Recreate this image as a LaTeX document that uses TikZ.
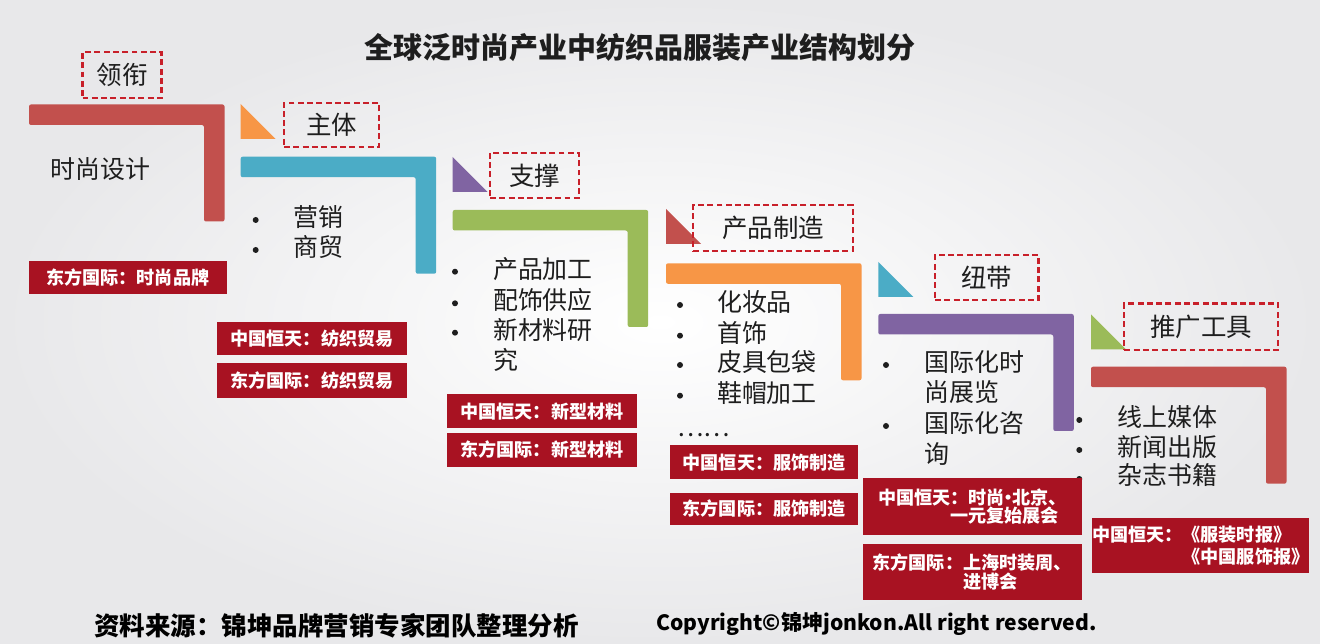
\documentclass[tikz,border=0pt]{standalone}
\usepackage{fontspec}
\setmainfont{Noto Sans CJK SC}
\usetikzlibrary{positioning}
\definecolor{stepred}{RGB}{194,80,77}
\definecolor{stepblue}{RGB}{75,172,198}
\definecolor{stepgreen}{RGB}{155,187,89}
\definecolor{steporange}{RGB}{247,150,70}
\definecolor{steppurple}{RGB}{128,100,162}
\definecolor{firmred}{RGB}{168,18,34}
\definecolor{tagred}{RGB}{200,32,42}
\definecolor{ink}{RGB}{30,30,30}
\definecolor{bggray}{RGB}{232,232,234}
\tikzstyle{tag}=[draw=tagred,line width=1.3pt,dash pattern=on 3.4pt off 1.9pt,inner sep=0pt,text=ink,font=\fontsize{14.5}{17}\selectfont]
\tikzstyle{firm}=[fill=firmred,inner sep=0pt,text=white,align=left,font=\fontsize{10.3}{10.6}\selectfont\bfseries]
\tikzstyle{item}=[anchor=west,inner sep=0pt,text height=.88em,text depth=.12em,text=ink,font=\fontsize{14.2}{17}\selectfont]
\tikzstyle{dot}=[circle,fill=ink,inner sep=0pt,minimum size=0.12cm]
\newcommand{\stepbar}[3]{\fill[#1,rounded corners=0.04cm] (#2,#3) -- ++(195.5,0) -- ++(0,117) -- ++(-20.5,0) -- ++(0,-96.5) -- ++(-175,0) -- cycle;}
\newcommand{\steptri}[3]{\fill[#1] (#2,#3) -- ++(0,35) -- ++(35,0) -- cycle;}

\begin{document}
\begin{tikzpicture}[x=0.02cm,y=-0.02cm,node distance=0.15cm]
    \shade[inner color=white,outer color=bggray] (0,0) rectangle (1320,644);
    \useasboundingbox (0,0) rectangle (1320,644);
    \node[text=ink,font=\fontsize{16.5}{20}\selectfont\bfseries] (title) at (640,48) {全球泛时尚产业中纺织品服装产业结构划分};

    \stepbar{stepred}{29}{104.5}
    \node[tag,minimum width=1.58cm,minimum height=0.92cm] (g1) at (122,75) {领衔};
    \node[item] (i1) at (50,171.7) {时尚设计};
    \node[firm,minimum width=3.95cm,minimum height=0.67cm] (c1) at (127.8,277.3) {东方国际：时尚品牌};

    \steptri{steporange}{240.5}{104}
    \stepbar{stepblue}{240.7}{156.7}
    \node[tag,minimum width=1.90cm,minimum height=0.88cm] (g2) at (331.5,124.7) {主体};
    \node[dot] (d2a) at (255.7,220) {};
    \node[item] (i2a) at (293.3,220) {营销};
    \node[dot] (d2b) at (255.7,250) {};
    \node[item] (i2b) at (293.3,250) {商贸};
    \node[firm,minimum width=3.81cm,minimum height=0.67cm] (c2a) at (312,338.3) {中国恒天：纺织贸易};
    \node[firm,minimum width=3.81cm,minimum height=0.70cm,below=0.155cm of c2a] (c2b) {东方国际：纺织贸易};

    \steptri{steppurple}{452.7}{157}
    \stepbar{stepgreen}{452.7}{210}
    \node[tag,minimum width=1.78cm,minimum height=0.91cm] (g3) at (534.5,175.5) {支撑};
    \node[dot] (d3a) at (455,271.7) {};
    \node[item] (i3a) at (492.7,271.7) {产品加工};
    \node[dot] (d3b) at (455,303.3) {};
    \node[item] (i3b) at (492.7,303.3) {配饰供应};
    \node[dot] (d3c) at (455,332.7) {};
    \node[item] (i3c) at (492.7,332.7) {新材料研};
    \node[item] (i3d) at (492.7,362.7) {究};
    \node[firm,minimum width=3.79cm,minimum height=0.69cm] (c3a) at (542,411.2) {中国恒天：新型材料};
    \node[firm,minimum width=3.79cm,minimum height=0.69cm,below=0.07cm of c3a] (c3b) {东方国际：新型材料};

    \steptri{stepred}{666}{209}
    \stepbar{steporange}{666}{263.3}
    \node[tag,minimum width=3.19cm,minimum height=0.91cm] (g4) at (773,228) {产品制造};
    \node[dot] (d4a) at (680,305) {};
    \node[item] (i4a) at (716.7,305) {化妆品};
    \node[dot] (d4b) at (680,335.7) {};
    \node[item] (i4b) at (716.7,335.7) {首饰};
    \node[dot] (d4c) at (680,365) {};
    \node[item] (i4c) at (716.7,365) {皮具包袋};
    \node[dot] (d4d) at (680,395.7) {};
    \node[item] (i4d) at (716.7,395.7) {鞋帽加工};
    \node[item] (i4e) at (676.7,430) {……};
    \node[firm,minimum width=3.77cm,minimum height=0.69cm] (c4a) at (764.2,462.2) {中国恒天：服饰制造};
    \node[firm,minimum width=3.77cm,minimum height=0.65cm,below=0.25cm of c4a] (c4b) {东方国际：服饰制造};

    \steptri{stepblue}{878.3}{262}
    \stepbar{steppurple}{878.3}{314}
    \node[tag,minimum width=2.07cm,minimum height=0.90cm] (g5) at (986.7,277.5) {纽带};
    \node[dot] (d5a) at (886,365) {};
    \node[item] (i5a) at (924,365) {国际化时};
    \node[item] (i5b) at (924,395) {尚展览};
    \node[dot] (d5c) at (886,426) {};
    \node[item] (i5c) at (924,426) {国际化咨};
    \node[item] (i5d) at (924,456.7) {询};

    \steptri{stepgreen}{1091}{314.5}
    \stepbar{stepred}{1091}{366.7}
    \node[tag,minimum width=3.08cm,minimum height=0.93cm] (g6) at (1201.3,326.7) {推广工具};
    \node[dot] (d6a) at (1079.3,420) {};
    \node[item] (i6a) at (1117.3,420) {线上媒体};
    \node[dot] (d6b) at (1079.3,450) {};
    \node[item] (i6b) at (1117.3,450) {新闻出版};
    \node[dot] (d6c) at (1079.3,479) {};
    \node[item] (i6c) at (1117.3,478.3) {杂志书籍};

    \node[firm,minimum width=4.38cm,minimum height=1.13cm] (c5a) at (972.2,506.7) {中国恒天：时尚\kern-.3em·\kern-.3em北京、\\\phantom{中国恒天}一元复始展会};
    \node[firm,minimum width=4.38cm,minimum height=1.11cm,below=0.17cm of c5a] (c5b) {东方国际：上海时装周、\\\phantom{东方国际：}进博会};
    \node[firm,minimum width=4.23cm,minimum height=1.10cm] (c6a) at (1200.8,545.8) {中国恒天：《服装时报》\\[2pt]\phantom{中国恒天：}《中国服饰报》};

    \node[text=black,font=\fontsize{14.5}{17}\selectfont\bfseries] (src) at (336.5,626) {资料来源：锦坤品牌营销专家团队整理分析};
    \node[text=black,font=\fontsize{12}{14}\selectfont\bfseries] (copy) at (876.5,624) {Copyright©锦坤jonkon.All right reserved.};
\end{tikzpicture}
\end{document}
